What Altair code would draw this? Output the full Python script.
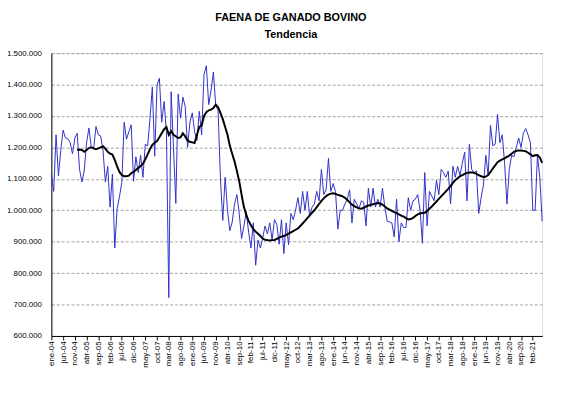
import json
import altair as alt
import pandas as pd

# Month labels (ene-04 ... jun-21)
meses = ['ene', 'feb', 'mar', 'abr', 'may', 'jun', 'jul', 'ago', 'sep', 'oct', 'nov', 'dic']
etiquetas = [f"{meses[k % 12]}-{4 + k // 12:02d}" for k in range(210)]

# Monthly cattle slaughter (thousands of head)
faena = [
    1115, 1060, 1240, 1110, 1190, 1255, 1230, 1228, 1215, 1180,
    1230, 1245, 1130, 1090, 1125, 1215, 1262, 1200, 1195, 1267,
    1240, 1236, 1190, 1090, 1140, 1010, 1115, 880, 1005, 1043,
    1088, 1280, 1226, 1250, 1272, 1092, 1170, 1120, 1175, 1105,
    1210, 1205, 1292, 1392, 1172, 1398, 1420, 1280, 1346, 1248,
    722, 1377, 1200, 1022, 1370, 1293, 1360, 1330, 1200, 1280,
    1310, 1250, 1222, 1315, 1240, 1432, 1460, 1336, 1382, 1440,
    1332, 1318, 1100, 968, 1105, 1000, 935, 962, 1020, 1050,
    990, 910, 950, 995, 930, 880, 960, 825, 905, 880,
    912, 950, 925, 960, 905, 970, 955, 892, 970, 862,
    960, 890, 990, 970, 1000, 1040, 990, 1060, 1000, 1060,
    980, 1010, 1020, 1060, 1030, 1130, 1050, 1065, 1165, 1060,
    1085, 1060, 940, 1000, 1000, 1020, 1035, 1065, 960, 1035,
    1020, 1005, 1030, 1025, 950, 1070, 1010, 1070, 1010, 1035,
    1010, 1070, 1010, 965, 963, 960, 915, 1035, 900, 960,
    945, 945, 1040, 1000, 1030, 1035, 1050, 1000, 895, 1120,
    950, 1060, 1045, 1030, 1095, 1050, 1130, 1120, 1105, 1125,
    1020, 1140, 1105, 1140, 1110, 1150, 1185, 1030, 1210, 1130,
    1120, 1125, 990, 1040, 1080, 1175, 1110, 1270, 1205, 1210,
    1305, 1215, 1240, 1150, 1020, 1130, 1175, 1170, 1200, 1230,
    1200, 1245, 1260, 1240, 1215, 1000, 1000, 1175, 1105, 965,
]

# Trend (thousands of head); no value for the first 11 months
tendencia = [
    None, None, None, None, None, None, None, None, None, None,
    None, 1192, 1193, 1192, 1186, 1192, 1198, 1200, 1197, 1194,
    1197, 1200, 1204, 1196, 1186, 1180, 1177, 1160, 1140, 1122,
    1112, 1108, 1108, 1110, 1118, 1122, 1128, 1135, 1140, 1148,
    1162, 1178, 1195, 1208, 1215, 1220, 1232, 1245, 1258, 1265,
    1240, 1252, 1240, 1235, 1230, 1232, 1245, 1235, 1222, 1218,
    1216, 1214, 1240, 1265, 1270, 1300, 1312, 1318, 1320, 1325,
    1336, 1328, 1310, 1290, 1265, 1240, 1205, 1180, 1155, 1125,
    1092, 1050, 1010, 985, 966, 952, 940, 932, 925, 918,
    910, 906, 905, 904, 905, 905, 909, 913, 916, 918,
    922, 926, 930, 934, 938, 942, 950, 958, 966, 975,
    984, 992, 1000, 1010, 1020, 1030, 1038, 1045, 1050, 1053,
    1054, 1052, 1049, 1047, 1044, 1040, 1033, 1025, 1018, 1013,
    1009, 1006, 1005, 1008, 1012, 1015, 1017, 1019, 1021, 1023,
    1022, 1018, 1012, 1006, 1002, 998, 994, 991, 987, 983,
    980, 975, 971, 972, 976, 982, 987, 990, 991, 992,
    998, 1005, 1012, 1020, 1028, 1036, 1044, 1052, 1060, 1068,
    1077, 1087, 1096, 1102, 1108, 1112, 1116, 1119, 1120, 1120,
    1119, 1116, 1112, 1108, 1106, 1107, 1112, 1122, 1133, 1143,
    1153, 1158, 1162, 1165, 1170, 1174, 1180, 1186, 1189, 1190,
    1190, 1189, 1188, 1183, 1178, 1172, 1175, 1176, 1168, 1151,
]

titulo = "FAENA DE GANADO BOVINO"
subtitulo = "Tendencia"
y_ticks = [600000, 700000, 800000, 900000, 1000000, 1100000, 1200000, 1300000, 1400000, 1500000]
x_ticks = list(range(0, 210, 5))

rows = []
for k in range(210):
    rows.append({"i": k, "serie": "faena", "valor": faena[k] * 1000})
    if tendencia[k] is not None:
        rows.append({"i": k, "serie": "tendencia", "valor": tendencia[k] * 1000})
df = pd.DataFrame(rows)

FONT = "Liberation Sans"
y_label_expr = "replace(format(datum.value, ','), regexp(',', 'g'), '.')"
x_label_expr = json.dumps(etiquetas) + "[datum.value]"

x_enc = alt.X(
    "i:Q",
    scale=alt.Scale(domain=[0, 209], nice=False, zero=False),
    axis=alt.Axis(values=x_ticks, labelExpr=x_label_expr, labelAngle=270, labelFontSize=8,
                  labelFont=FONT, labelColor="black", tickSize=4, tickColor="black",
                  domainColor="black", labelPadding=1, grid=False, title=None,
                  labelOverlap=False, labelBound=False, labelFlush=False),
)
y_enc = alt.Y(
    "valor:Q",
    scale=alt.Scale(domain=[600000, 1500000], nice=False, zero=False),
    axis=alt.Axis(values=y_ticks, labelExpr=y_label_expr, ticks=False, labelPadding=10,
                  labelFontSize=8, labelFont=FONT, labelColor="black",
                  labelOverlap=False, labelBound=False, labelFlush=False,
                  grid=True, gridDash=[3, 2], gridColor="#8a8a8a", gridWidth=0.8,
                  domainColor="black", title=None),
)

base = alt.Chart(df).encode(x=x_enc, y=y_enc)
serie = base.transform_filter(alt.datum.serie == "faena").mark_line(color="#3030c8", strokeWidth=1)
trend = base.transform_filter(alt.datum.serie == "tendencia").mark_line(color="black", strokeWidth=2)

t1 = alt.Chart(pd.DataFrame({"t": [titulo]})).mark_text(
    font=FONT, fontSize=11, fontWeight="bold", align="center", baseline="middle", color="black"
).encode(text="t:N", x=alt.value(243), y=alt.value(-35.5))
t2 = alt.Chart(pd.DataFrame({"t": [subtitulo]})).mark_text(
    font=FONT, fontSize=11, fontWeight="bold", align="center", baseline="middle", color="black"
).encode(text="t:N", x=alt.value(243), y=alt.value(-18.5))

chart = alt.layer(serie, trend, t1, t2).properties(
    width=498, height=287,
    padding={"left": 44, "top": 43, "right": 11, "bottom": 50},
    autosize=alt.AutoSizeParams(type="none"),
).configure_view(stroke="#8a8a8a", strokeWidth=1.5).configure(background="white")

chart.save("out.html", embed_options={"renderer": "svg", "actions": False})
